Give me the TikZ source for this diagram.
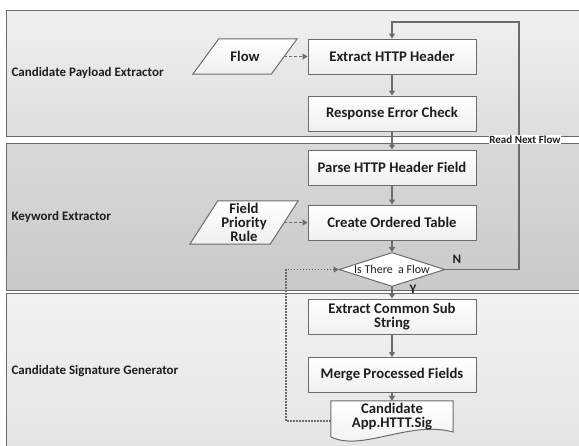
\documentclass[tikz,border=0pt]{standalone}
\usepackage{fontspec}
\setmainfont{Carlito}
\usetikzlibrary{shapes.geometric, arrows.meta, calc}

\definecolor{edge}{HTML}{6B6B6B}
\definecolor{ink}{HTML}{1E1E1E}
\definecolor{laneAtop}{HTML}{F0F0F0}
\definecolor{laneAbot}{HTML}{DEDEDE}
\definecolor{laneBtop}{HTML}{D9D9D9}
\definecolor{laneBbot}{HTML}{C9C9C9}
\definecolor{laneCtop}{HTML}{F1F1F1}
\definecolor{laneCbot}{HTML}{E3E3E3}

\tikzset{
  lane/.style={draw=edge, line width=0.9},
  lanelabel/.style={anchor=west, text=ink, font=\fontsize{13}{14}\selectfont\bfseries},
  procbox/.style={draw=edge, line width=1, top color=white, bottom color=gray!12,
    minimum width=168, minimum height=35, inner sep=2, align=center, text=ink,
    font=\fontsize{14.7}{14}\selectfont\bfseries},
  iotext/.style={inner sep=0, align=center, text=ink,
    font=\fontsize{14.7}{14}\selectfont\bfseries},
  ioshape/.style={draw=edge, line width=1, top color=white, bottom color=gray!12},
  decision/.style={diamond, aspect=3.1, draw=edge, line width=1, fill=white,
    minimum width=106, minimum height=34, inner sep=0, text=ink,
    font=\fontsize{12}{14}\selectfont},
  flowline/.style={draw=edge, line width=1.1, -{Triangle[length=5,width=6]}},
  dashline/.style={flowline, dash pattern=on 3 off 2},
  dotline/.style={flowline, dash pattern=on 1.5 off 1.5},
  edgetag/.style={text=ink, font=\fontsize{13}{14}\selectfont\bfseries, inner sep=0},
}

\begin{document}
\begin{tikzpicture}[x=1pt, y=-1pt]
\useasboundingbox (0,0) rectangle (579,445);
\fill[white] (0,0) rectangle (579,445);

% swim lanes
\path[lane, top color=laneAtop, bottom color=laneAbot] (6,10) rectangle (600,136);
\path[lane, top color=laneBtop, bottom color=laneBbot] (6,143) rectangle (600,290);
\path[lane, top color=laneCtop, bottom color=laneCbot] (6,293) rectangle (600,470);

\node[lanelabel] (laneA) at (8,73) {Candidate Payload Extractor};
\node[lanelabel] (laneB) at (8,217) {Keyword Extractor};
\node[lanelabel] (laneC) at (8,371) {Candidate Signature Generator};

% process steps
\node[procbox] (extract) at (392,56.5) {Extract HTTP Header};
\node[procbox] (check)   at (392,113.5) {Response Error Check};
\node[procbox] (parse)   at (392,167.5) {Parse HTTP Header Field};
\node[procbox] (table)   at (392,222.5) {Create Ordered Table};
\node[decision] (dia)    at (392,269.5) {Is There\ \ a Flow};
\node[procbox] (common)  at (392,316.5) {Extract Common Sub\\String};
\node[procbox] (merge)   at (392,375) {Merge Processed Fields};

% input / data shapes
\node[iotext, minimum width=78, minimum height=35] (flow) at (245,56.5) {};
\path[ioshape] ([xshift=13]flow.north west) -- ([xshift=13]flow.north east)
  -- ([xshift=-13]flow.south east) -- ([xshift=-13]flow.south west) -- cycle;
\node[iotext] (flowtext) at (flow) {Flow};

\node[iotext, minimum width=80, minimum height=43] (rule) at (244,222.5) {};
\path[ioshape] ([xshift=14]rule.north west) -- ([xshift=14]rule.north east)
  -- ([xshift=-14]rule.south east) -- ([xshift=-14]rule.south west) -- cycle;
\node[iotext] (ruletext) at (rule) {Field\\Priority\\Rule};

% output document
\node[iotext, minimum width=122, minimum height=30] (doc) at (392,416) {};
\path[ioshape] (doc.north west) -- (doc.north east) -- (453,432)
  .. controls (410,420) and (362,452) .. (331,437) -- cycle;
\node[iotext] (doctext) at ([yshift=-1]doc) {Candidate\\App.HTTT.Sig};

% main flow
\draw[flowline] (extract) -- (check);
\draw[flowline] (check) -- (parse);
\draw[flowline] (parse) -- (table);
\draw[flowline] (table) -- (dia);
\draw[flowline] (dia) -- (common);
\draw[flowline] (common) -- (merge);
\draw[flowline] (merge) -- (doc);

% inputs
\draw[dashline] (flow.east) -- (extract.west);
\draw[dashline] (rule.east) -- (table.west);

% loop back for the next flow
\coordinate (loopA) at (519,269.5);
\coordinate (loopB) at (519,22);
\draw[flowline] (dia.east) -- (loopA) -- (loopB) -| (extract.north);
\node[fill=white, inner sep=0.6, text=ink, font=\fontsize{11}{12}\selectfont\bfseries]
  (next) at (525,139.5) {Read Next Flow};

% feedback from the generated signature
\coordinate (fb) at (286,421);
\draw[dotline] ([yshift=-5]doc.west) -- (fb) |- (dia.west);

% branch labels
\node[edgetag] (no)  at (457,259) {N};
\node[edgetag] (yes) at (413,289) {Y};
\end{tikzpicture}
\end{document}
